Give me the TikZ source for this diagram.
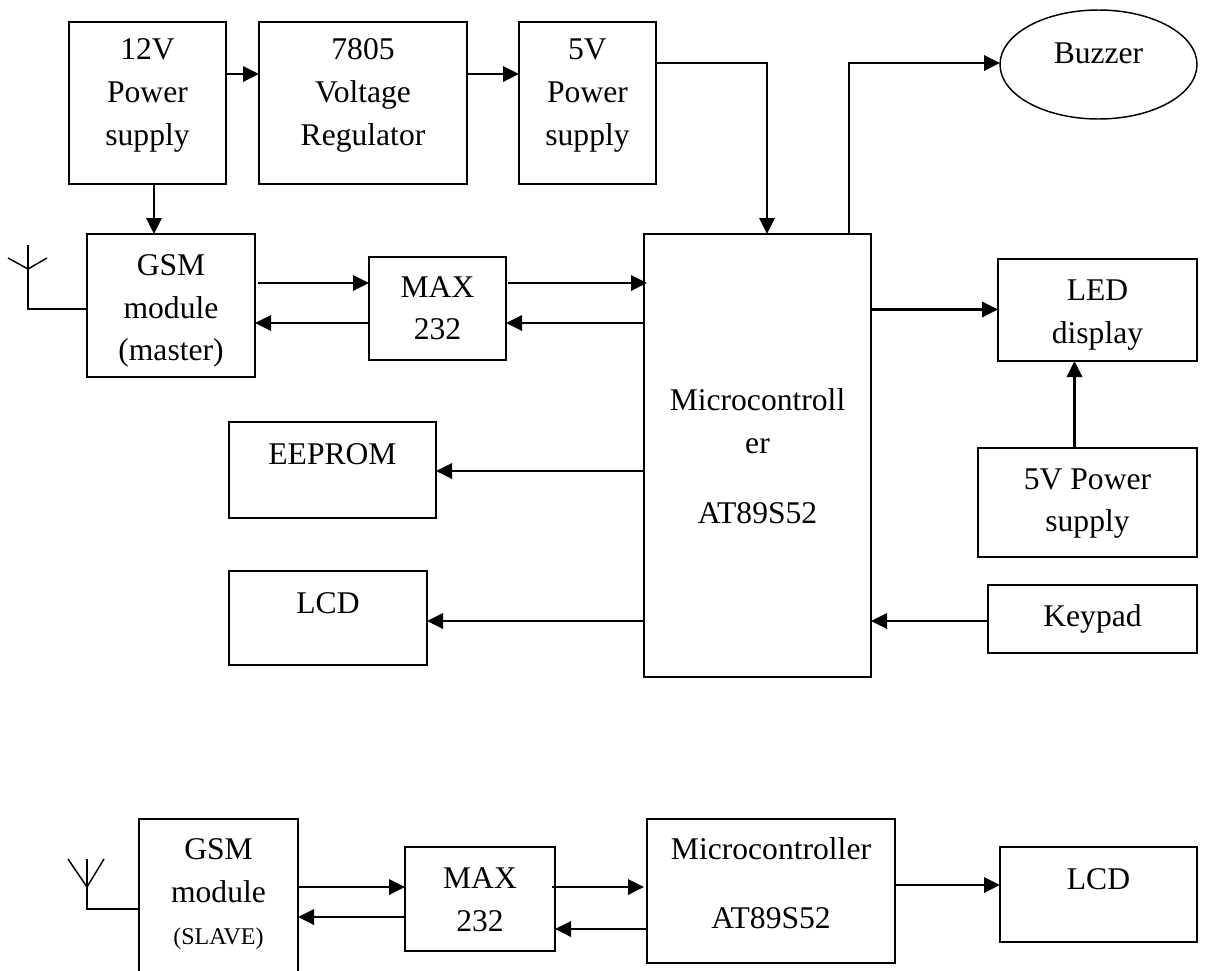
\documentclass[tikz,border=0pt]{standalone}
\usepackage{fontspec}
\setmainfont{Liberation Serif}
\usetikzlibrary{arrows.meta,shapes.geometric}
\tikzset{
  blockbox/.style={draw=black,line width=1.2pt,inner sep=0pt,outer sep=0pt,rectangle},
  flow/.style={draw=black,line width=1.8pt,-{Triangle[length=12pt,width=11.5pt]}},
  aerial/.style={draw=black,line width=1.1pt},
}
% name, x1,y1,x2,y2, text-centre y, text
\def\bx#1#2#3#4#5#6#7{%
  \pgfmathsetmacro{\cxx}{(#2+#4)/2}\pgfmathsetmacro{\cyy}{(#3+#5)/2}%
  \pgfmathsetmacro{\wdd}{(#4-#2)*0.75}\pgfmathsetmacro{\htt}{(#5-#3)*0.75}%
  \pgfmathsetmacro{\dyy}{(\cyy-#6)*0.75-5.8}%
  \node[blockbox,minimum width=\wdd pt,minimum height=\htt pt] (#1) at (\cxx,\cyy) {\makebox[0pt]{\raisebox{\dyy pt}[0pt][0pt]{\begin{tabular}[c]{@{}c@{}}#7\end{tabular}}}};}
\begin{document}
\begin{tikzpicture}[x=0.75pt,y=-0.75pt,every node/.style={font=\fontsize{23.7}{32.2}\selectfont}]
\useasboundingbox (0,0) rectangle (1211,971);
% top row
\bx{ps12}{69}{22}{226}{184}{94.5}{12V\\Power\\supply}
\bx{reg}{259}{22}{467}{184}{94.5}{7805\\Voltage\\Regulator}
\bx{ps5}{519}{22}{656}{184}{94.5}{5V\\Power\\supply}
\node[draw=black,line width=1.1pt,ellipse,inner sep=0pt,outer sep=0pt,minimum width=147.75pt,minimum height=81.75pt] (buzzer) at (1098.5,64.5) {\makebox[0pt]{\raisebox{1.1pt}[0pt][0pt]{Buzzer}}};
% master
\bx{gsm}{87}{234}{255}{377}{310}{GSM\\module\\(master)}
\bx{max}{369}{257}{506}{360}{310.5}{MAX\\232}
\bx{mcu}{644}{234}{871}{677}{458.8}{Microcontroll\\er\\[20.2pt]AT89S52}
\bx{led}{998}{259}{1197}{361}{314}{LED\\display}
\bx{ps5b}{978}{448}{1197}{557}{502.5}{5V Power\\supply}
\bx{keypad}{988}{585}{1197}{653}{618.5}{Keypad}
\bx{eeprom}{229}{422}{436}{518}{456}{EEPROM}
\bx{lcd}{229}{571}{427}{665}{605.5}{LCD}
% slave
\bx{gsms}{139}{819}{298}{976}{894}{GSM\\module\\{\fontsize{18}{32.2}\selectfont(SLAVE)}}
\bx{maxs}{405}{847}{555}{951}{902}{MAX\\232}
\bx{mcus}{647}{819}{895}{963}{886}{Microcontroller\\[19.5pt]AT89S52}
\bx{lcds}{1000}{847}{1197}{942}{881}{LCD}
% connectors
\draw[flow] (ps12.east |- 0,74) -- (reg.west |- 0,74);
\draw[flow] (reg.east |- 0,74) -- (ps5.west |- 0,74);
\draw[flow] (154,0 |- ps12.south) -- (154,0 |- gsm.north);
\coordinate (c5) at (767,63);
\draw[flow] (ps5.east |- c5) -- (c5) -- (c5 |- mcu.north);
\coordinate (cb) at (849,63);
\draw[flow] (cb |- mcu.north) -- (cb) -- (buzzer.west |- cb);
\coordinate (g1) at (258,283);
\draw[flow] (g1) -- (max.west |- g1);
\draw[flow] (max.west |- 0,323) -- (gsm.east |- 0,323);
\coordinate (m1) at (508,283);
\coordinate (m2) at (647,283);
\draw[flow] (m1) -- (m2);
\draw[flow] (mcu.west |- 0,323) -- (max.east |- 0,323);
\draw[flow] (mcu.east |- 0,309.5) -- (led.west |- 0,309.5);
\draw[flow] (1074.5,0 |- ps5b.north) -- (1074.5,0 |- led.south);
\draw[flow] (mcu.west |- 0,471) -- (eeprom.east |- 0,471);
\draw[flow] (mcu.west |- 0,621) -- (lcd.east |- 0,621);
\draw[flow] (keypad.west |- 0,621) -- (mcu.east |- 0,621);
\draw[flow] (gsms.east |- 0,887) -- (maxs.west |- 0,887);
\draw[flow] (maxs.west |- 0,917) -- (gsms.east |- 0,917);
\coordinate (s1) at (552,887);
\coordinate (s2) at (644,887);
\draw[flow] (s1) -- (s2);
\draw[flow] (mcus.west |- 0,929) -- (maxs.east |- 0,929);
\draw[flow] (mcus.east |- 0,885) -- (lcds.west |- 0,885);
% antennas
\coordinate (a1) at (28,269);
\coordinate (a1t) at (28,245);
\coordinate (a1b) at (28,309);
\coordinate (a1l) at (8,258);
\coordinate (a1r) at (47,258);
\draw[aerial] (gsm.west |- a1b) -- (a1b) -- (a1t);
\draw[aerial] (a1l) -- (a1) -- (a1r);
\coordinate (a2) at (87,887);
\coordinate (a2t) at (87,859);
\coordinate (a2b) at (87,909);
\coordinate (a2l) at (68,859);
\coordinate (a2r) at (104,859);
\draw[aerial] (gsms.west |- a2b) -- (a2b) -- (a2t);
\draw[aerial] (a2l) -- (a2) -- (a2r);
\end{tikzpicture}
\end{document}
